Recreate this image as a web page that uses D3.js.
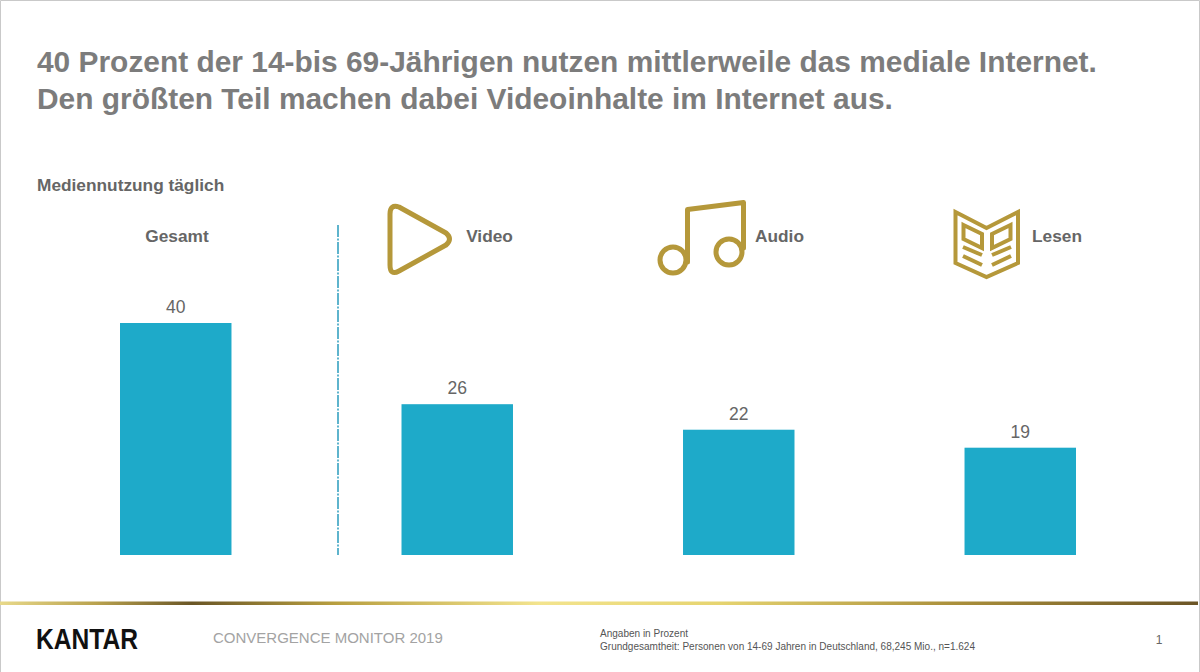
<!DOCTYPE html>
<html>
<head>
  <meta http-equiv="Content-Type" content="text/html;charset=utf-8" />
  <style type="text/css">
    html, body { margin: 0; padding: 0; background: #fff; }
    svg { display: block; }
    text { font-family: "Liberation Sans", Arial, sans-serif; }
    .icon { fill: none; stroke: #b5983a; stroke-linejoin: round; stroke-linecap: round; }
  </style>
</head>
<body>
  <div id="svgContainer"></div>
  <script src="https://d3js.org/d3.v7.min.js"></script>
  <script type="text/javascript">
    var w = 1200;
    var h = 672;

    // data (labels are the rounded values)
    var categories = ["Gesamt", "Video", "Audio", "Lesen"];
    var values = [40, 26, 21.6, 18.5];
    var titleLines = [
      "40 Prozent der 14-bis 69-Jährigen nutzen mittlerweile das mediale Internet.",
      "Den größten Teil machen dabei Videoinhalte im Internet aus."
    ];
    var noteLines = [
      "Angaben in Prozent",
      "Grundgesamtheit: Personen von 14-69 Jahren in Deutschland, 68,245 Mio., n=1.624"
    ];

    var svg = d3.select("#svgContainer")
      .append("svg")
      .attr("width", w)
      .attr("height", h);

    // frame of the slide
    svg.append("rect").attr("width", w).attr("height", h).attr("fill", "#fff");
    svg.append("path").attr("d", "M0.5 672V0.5H1199.5V672").attr("fill", "none").attr("stroke", "#c9c9c9");

    var x = d3.scaleBand().domain(categories).range([120, 1076]).paddingInner(0.604).paddingOuter(0);
    var y = d3.scaleLinear().domain([0, 40]).range([555, 323]);

    // title
    svg.selectAll(".title").data(titleLines).enter().append("text")
      .attr("class", "title")
      .attr("x", 37)
      .attr("y", function (d, i) { return 72 + i * 37; })
      .attr("font-size", 29.9)
      .attr("font-weight", "bold")
      .attr("fill", "#7c7c7c")
      .text(function (d) { return d; });

    svg.append("text")
      .attr("x", 37).attr("y", 191)
      .attr("font-size", 17.3).attr("font-weight", "bold").attr("fill", "#666")
      .text("Mediennutzung täglich");

    // bars
    svg.selectAll(".bar").data(values).enter().append("rect")
      .attr("class", "bar")
      .attr("x", function (d, i) { return x(categories[i]); })
      .attr("y", function (d) { return y(d); })
      .attr("width", x.bandwidth())
      .attr("height", function (d) { return y(0) - y(d); })
      .attr("fill", "#1eaac9");

    svg.selectAll(".value").data(values).enter().append("text")
      .attr("class", "value")
      .attr("x", function (d, i) { return x(categories[i]) + x.bandwidth() / 2; })
      .attr("y", function (d) { return y(d) - 10; })
      .attr("text-anchor", "middle")
      .attr("font-size", 17.5)
      .attr("fill", "#666")
      .text(function (d) { return Math.round(d); });

    // category headings
    var labelX = { "Gesamt": 177, "Video": 489.5, "Audio": 779.5, "Lesen": 1057 };
    svg.selectAll(".cat").data(categories).enter().append("text")
      .attr("class", "cat")
      .attr("x", function (d) { return labelX[d]; })
      .attr("y", 242)
      .attr("text-anchor", "middle")
      .attr("font-size", 17.3)
      .attr("font-weight", "bold")
      .attr("fill", "#666")
      .text(function (d) { return d; });

    // divider between total and the three groups
    svg.append("line")
      .attr("x1", 338).attr("x2", 338).attr("y1", 225).attr("y2", 555)
      .attr("stroke", "#2a9cbd").attr("stroke-width", 1.5)
      .attr("stroke-dasharray", "12 1.5 2 1.5");

    // icons
    var icons = svg.append("g").attr("class", "icon");
    icons.append("path").attr("stroke-width", 5)
      .attr("d", "M390 214Q390 204 399 207L446 233Q453 239 446 245L399 271Q390 276 390 265Z");

    icons.append("path").attr("stroke-width", 5)
      .attr("d", "M687.5 262V209.5L743.5 202.5V248");
    icons.append("circle").attr("cx", 673).attr("cy", 260).attr("r", 13).attr("stroke-width", 5);
    icons.append("circle").attr("cx", 729).attr("cy", 252).attr("r", 13).attr("stroke-width", 5);

    var book = icons.append("g").attr("stroke-width", 4).attr("stroke-linecap", "butt").attr("stroke-linejoin", "miter");
    book.append("path").attr("d", "M955.5 212L986.5 228L1018 212V263L986.5 277L955.5 263Z");
    book.append("path").attr("d", "M963.5 225L982 234V248L963.5 239Z");
    book.append("path").attr("d", "M1010.5 225L992 234V248L1010.5 239Z");
    book.append("path").attr("d", "M963 247L982 255M963 256L982 265M1011 247L992 255M1011 256L992 265");

    // gold rule
    var grad = svg.append("defs").append("linearGradient").attr("id", "gold");
    var stops = [[0, "#e8d98a"], [0.08, "#b9a24e"], [0.16, "#6a5626"], [0.28, "#b89f40"], [0.45, "#f3e48e"], [0.6, "#e6d470"], [0.8, "#a98e3a"], [1, "#6b5526"]];
    grad.selectAll("stop").data(stops).enter().append("stop")
      .attr("offset", function (d) { return d[0]; })
      .attr("stop-color", function (d) { return d[1]; });
    svg.append("rect").attr("x", 0).attr("y", 601.5).attr("width", 1198).attr("height", 3.5).attr("fill", "url(#gold)");

    // footer
    svg.append("text")
      .attr("x", 36).attr("y", 649)
      .attr("font-size", 29).attr("font-weight", "bold").attr("fill", "#111")
      .attr("textLength", 102).attr("lengthAdjust", "spacingAndGlyphs")
      .text("KANTAR");

    svg.append("text")
      .attr("x", 213).attr("y", 643)
      .attr("font-size", 15).attr("fill", "#a3a3a3")
      .text("CONVERGENCE MONITOR 2019");

    svg.selectAll(".note").data(noteLines).enter().append("text")
      .attr("class", "note")
      .attr("x", 600)
      .attr("y", function (d, n) { return 637 + n * 13; })
      .attr("font-size", 10.03)
      .attr("fill", "#555")
      .text(function (d) { return d; });

    svg.append("text")
      .attr("x", 1159).attr("y", 644)
      .attr("text-anchor", "middle")
      .attr("font-size", 12).attr("fill", "#666")
      .text("1");
  </script>
</body>
</html>
